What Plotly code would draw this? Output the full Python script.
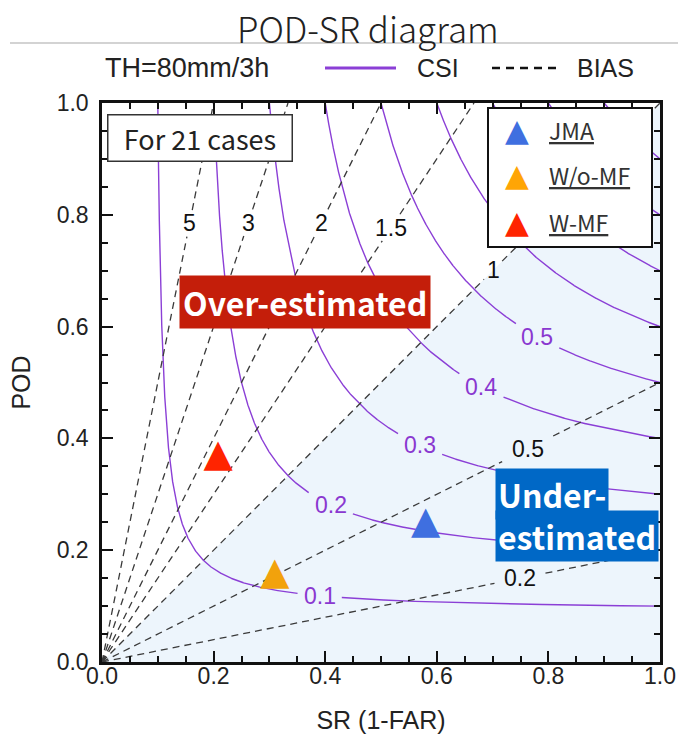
import numpy as np
import plotly.graph_objects as go

# ---------------- data ----------------
csi_levels = [0.1, 0.2, 0.3, 0.4, 0.5, 0.6, 0.7, 0.8, 0.9]
csi_label_text = ["0.1", "0.2", "0.3", "0.4", "0.5"]
csi_label_sr = [0.39, 0.41, 0.57, 0.68, 0.78]

bias_levels = [0.2, 0.5, 1.0, 1.5, 2.0, 3.0, 5.0]
bias_label_text = ["0.2", "0.5", "1", "1.5", "2", "3", "5"]
bias_label_sr = [0.749, 0.763, 0.701, 0.518, 0.393, 0.262, 0.157]

models = ["JMA", "W/o-MF", "W-MF"]
model_sr = [0.580, 0.310, 0.208]
model_pod = [0.248, 0.157, 0.367]
model_colors = ["#3f6fe0", "#f2a20c", "#ff2400"]
legend_colors = ["#3f6fe0", "#ffa505", "#ff2400"]

# ---------------- layout constants ----------------
W, H = 678, 735
PL, PR, PT, PB = 102, 660, 103, 662          # plot area in screen pixels
PW, PH = PR - PL, PB - PT
ML, MT = PL, PT
MR, MB = W - ML - PW, H - MT - PH

PURPLE = "#8b3fd6"
LABEL_PURPLE = "#8a38d0"
LIGHT_BLUE = "#edf5fc"
FONT = "Liberation Sans, Arial, sans-serif"
JFONT = "Noto Sans CJK JP, Noto Sans, sans-serif"


def px(x):
    return (x - PL) / PW


def py(y):
    return (PB - y) / PH


def cut_gap(xs, ys, cx, cy, w, h):
    xs = np.array(xs, dtype=float)
    ys = np.array(ys, dtype=float)
    dx = np.abs(xs - cx) * PW
    dy = np.abs(ys - cy) * PH
    mask = (dx < w / 2) & (dy < h / 2)
    ys[mask] = np.nan
    return xs, ys


fig = go.Figure()

# shaded under-estimated region (below BIAS = 1)
fig.add_trace(go.Scatter(x=[0, 1], y=[0, 1], mode="lines", line=dict(width=0),
                         fill="tozeroy", fillcolor=LIGHT_BLUE, hoverinfo="skip",
                         showlegend=False))

annotations = []

# CSI isolines
u = np.linspace(0, 1, 3000)
for c in csi_levels:
    sr = c + (1 - c) * u ** 3
    pod = 1.0 / (1.0 / c + 1.0 - 1.0 / sr)
    if f"{c:.1f}" in csi_label_text:
        i = csi_label_text.index(f"{c:.1f}")
        lx = csi_label_sr[i]
        ly = 1.0 / (1.0 / c + 1.0 - 1.0 / lx)
        sr, pod = cut_gap(sr, pod, lx, ly, 44, 26)
        annotations.append(dict(x=lx, y=ly, xref="x", yref="y", text=csi_label_text[i],
                                showarrow=False, font=dict(family=FONT, size=23, color=LABEL_PURPLE),
                                xanchor="center", yanchor="middle"))
    fig.add_trace(go.Scatter(x=sr, y=pod, mode="lines",
                             line=dict(color=PURPLE, width=1.4),
                             hoverinfo="skip", showlegend=False))

# BIAS lines
for b, t, lx in zip(bias_levels, bias_label_text, bias_label_sr):
    xend = min(1.0, 1.0 / b)
    sr = np.linspace(0, xend, 800)
    pod = b * sr
    ly = b * lx
    w = 14 * len(t) + 8 if len(t) > 1 else 18
    sr, pod = cut_gap(sr, pod, lx, ly, w, 26)
    fig.add_trace(go.Scatter(x=sr, y=pod, mode="lines",
                             line=dict(color="#3a3a3a", width=1.3, dash="7px,5px"),
                             hoverinfo="skip", showlegend=False))
    annotations.append(dict(x=lx, y=ly, xref="x", yref="y", text=t, showarrow=False,
                            font=dict(family=FONT, size=23, color="#111111"),
                            xanchor="center", yanchor="middle"))

# model markers (triangles)
for m, s, p, col in zip(models, model_sr, model_pod, model_colors):
    fig.add_trace(go.Scatter(x=[s], y=[p], mode="text", text=["▲"],
                             textposition="middle center",
                             textfont=dict(family="DejaVu Sans", size=38, color=col),
                             name=m, hoverinfo="skip", showlegend=False))

# ---------------- decorations ----------------
shapes = []
shapes.append(dict(type="line", xref="paper", yref="paper", x0=px(10), x1=px(678),
                   y0=py(43), y1=py(43), line=dict(color="#c4c4c4", width=1.5)))
shapes.append(dict(type="line", xref="paper", yref="paper", x0=px(325), x1=px(396),
                   y0=py(68), y1=py(68), line=dict(color=PURPLE, width=3)))
shapes.append(dict(type="line", xref="paper", yref="paper", x0=px(492), x1=px(560),
                   y0=py(68), y1=py(68), line=dict(color="#111111", width=2.5, dash="8px,6px")))
shapes.append(dict(type="rect", xref="paper", yref="paper", x0=px(488), x1=px(652),
                   y0=py(247), y1=py(108), fillcolor="white",
                   line=dict(color="#111111", width=2), layer="above"))

annotations += [
    dict(x=px(368), y=py(28), xref="paper", yref="paper", text="POD-SR diagram",
         showarrow=False, font=dict(family=JFONT, size=35, color="#222222", weight=300),
         xanchor="center", yanchor="middle"),
    dict(x=px(103), y=py(68), xref="paper", yref="paper", text="TH=80mm/3h",
         showarrow=False, font=dict(family=FONT, size=27, color="#222222"),
         xanchor="left", yanchor="middle"),
    dict(x=px(415), y=py(68), xref="paper", yref="paper", text="CSI",
         showarrow=False, font=dict(family=FONT, size=25, color="#222222"),
         xanchor="left", yanchor="middle"),
    dict(x=px(575), y=py(68), xref="paper", yref="paper", text="BIAS",
         showarrow=False, font=dict(family=FONT, size=25, color="#222222"),
         xanchor="left", yanchor="middle"),
    dict(x=px(107), y=py(114), xref="paper", yref="paper", text="For 21 cases",
         showarrow=False, font=dict(family=JFONT, size=27, color="#222222"),
         xanchor="left", yanchor="top", bgcolor="white", bordercolor="#333333",
         borderwidth=1.5, borderpad=3, width=177, height=39),
    dict(x=px(179), y=py(301.5), xref="paper", yref="paper", text="<b>Over-estimated</b>",
         showarrow=False, font=dict(family=JFONT, size=32, color="white"),
         xanchor="left", yanchor="middle", bgcolor="#c41e0a", borderpad=3),
    dict(x=px(495), y=py(493.5), xref="paper", yref="paper", text="<b>Under-</b>",
         showarrow=False, font=dict(family=JFONT, size=32, color="white"),
         xanchor="left", yanchor="middle", bgcolor="#0068c6", borderpad=2),
    dict(x=px(495), y=py(536), xref="paper", yref="paper", text="<b>estimated</b>",
         showarrow=False, font=dict(family=JFONT, size=32, color="white"),
         xanchor="left", yanchor="middle", bgcolor="#0068c6", borderpad=2),
]

legend_rows = [130, 175, 222]
for m, col, yy in zip(models, legend_colors, legend_rows):
    annotations.append(dict(x=px(517), y=py(yy), xref="paper", yref="paper", text="▲",
                            showarrow=False, font=dict(family="DejaVu Sans", size=31, color=col),
                            xanchor="center", yanchor="middle"))
    annotations.append(dict(x=px(547), y=py(yy), xref="paper", yref="paper",
                            text=f"<u>{m}</u>", showarrow=False,
                            font=dict(family=JFONT, size=23, color="#333333"),
                            xanchor="left", yanchor="middle"))

tickvals = [0, 0.2, 0.4, 0.6, 0.8, 1.0]
ticktext = ["0.0", "0.2", "0.4", "0.6", "0.8", "1.0"]
axis_common = dict(range=[0, 1], tickvals=tickvals, ticktext=ticktext, automargin=False,
                   ticks="inside", ticklen=11, tickwidth=2, tickcolor="#111111",
                   showline=True, linewidth=2.5, linecolor="#111111", mirror="ticks",
                   showgrid=False, zeroline=False,
                   tickfont=dict(family=FONT, size=23, color="#222222"),
                   minor=dict(dtick=0.05, ticks="inside", ticklen=6, tickwidth=1.5,
                              tickcolor="#111111", showgrid=False))

fig.update_layout(
    width=W, height=H,
    margin=dict(l=ML, r=MR, t=MT, b=MB, pad=0),
    paper_bgcolor="white", plot_bgcolor="white",
    showlegend=False,
    xaxis=dict(**axis_common, ticklabelstandoff=-8,
               title=dict(text="SR (1-FAR)", font=dict(family=FONT, size=25, color="#222222"), standoff=24)),
    yaxis=dict(**axis_common, ticklabelstandoff=6,
               title=dict(text="POD", font=dict(family=FONT, size=25, color="#222222"), standoff=19)),
    shapes=shapes,
    annotations=annotations,
)

fig.write_html("out.html", config={"displayModeBar": False},
               post_script="document.body.style.margin='0';")
